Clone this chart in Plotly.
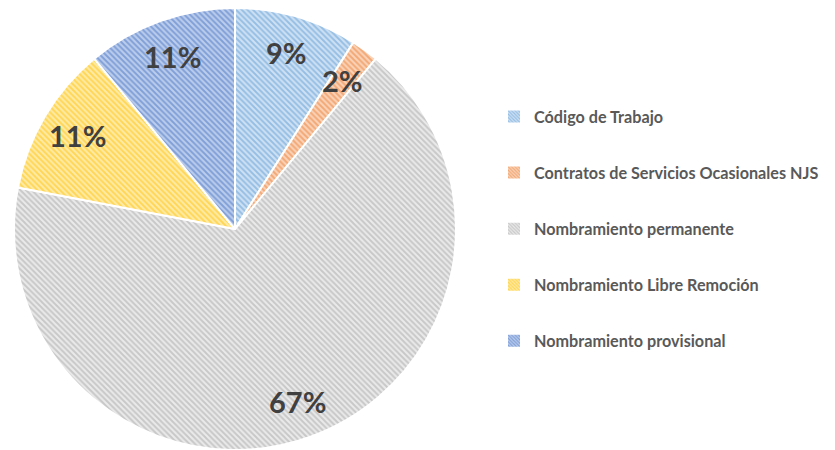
import math
import plotly.graph_objects as go

categories = [
    "Código de Trabajo",
    "Contratos de Servicios Ocasionales NJS",
    "Nombramiento permanente",
    "Nombramiento Libre Remoción",
    "Nombramiento provisional",
]
values = [9, 2, 67, 11, 11]
colors = ["#5B9BD5", "#ED7D31", "#A5A5A5", "#FFC000", "#4472C4"]
bg_colors = ["#CFE1F3", "#F9D3B9", "#EAEAEA", "#FFEBA8", "#BCCDEC"]

W, H = 835, 450
OFF = 8  # page body margin
cx, cy, R = 235.0 - OFF, 229.0 - OFF, 221.0  # pie centre / radius in plot px

pattern = dict(shape="\\", fgcolor=colors, bgcolor=bg_colors,
               size=4, solidity=0.48, fillmode="overlay")

fig = go.Figure()
fig.add_trace(go.Pie(
    labels=categories,
    values=values,
    sort=False,
    direction="clockwise",
    rotation=0,
    textinfo="none",
    hoverinfo="label+percent",
    showlegend=False,
    marker=dict(colors=bg_colors, line=dict(color="white", width=2), pattern=pattern),
    domain=dict(x=[(cx - R) / W, (cx + R) / W],
                y=[max(0, (H - cy - R) / H), min(1, (H - cy + R) / H)]),
))

# legend entries (one group each so spacing can be controlled)
for cat, col, bg in zip(categories, colors, bg_colors):
    fig.add_trace(go.Bar(
        x=[None], y=[None], name=cat, legendgroup=cat, showlegend=True,
        marker=dict(color=bg, line=dict(width=0),
                    pattern=dict(shape="\\", fgcolor=col, bgcolor=bg, size=3, solidity=0.5)),
        hoverinfo="skip",
    ))

total = sum(values)
cum = 0
for v in values:
    mid = (cum + v / 2) / total * 2 * math.pi
    cum += v
    r = R * 0.83
    px = cx + r * math.sin(mid)
    py = cy - r * math.cos(mid)
    fig.add_annotation(
        x=px / W, y=1 - py / H, xref="paper", yref="paper",
        xanchor="center", yanchor="middle",
        text=f"{round(v / total * 100)}%", showarrow=False,
        font=dict(family="Lato", size=29, color="#404040", weight="bold"),
    )

fig.update_layout(
    width=W, height=H,
    margin=dict(l=0, r=0, t=0, b=0),
    paper_bgcolor="white",
    plot_bgcolor="white",
    showlegend=True,
    xaxis=dict(visible=False, domain=[0.99, 1]),
    yaxis=dict(visible=False, domain=[0.99, 1]),
    legend=dict(
        x=(534 - 40 - OFF) / W, xanchor="left",
        y=1 - (229 - OFF) / H, yanchor="middle",
        font=dict(family="Lato", size=16.2, color="#595959", weight="bold"),
        tracegroupgap=32, traceorder="grouped",
        bgcolor="rgba(0,0,0,0)",
    ),
)

fig.write_html("out.html")
